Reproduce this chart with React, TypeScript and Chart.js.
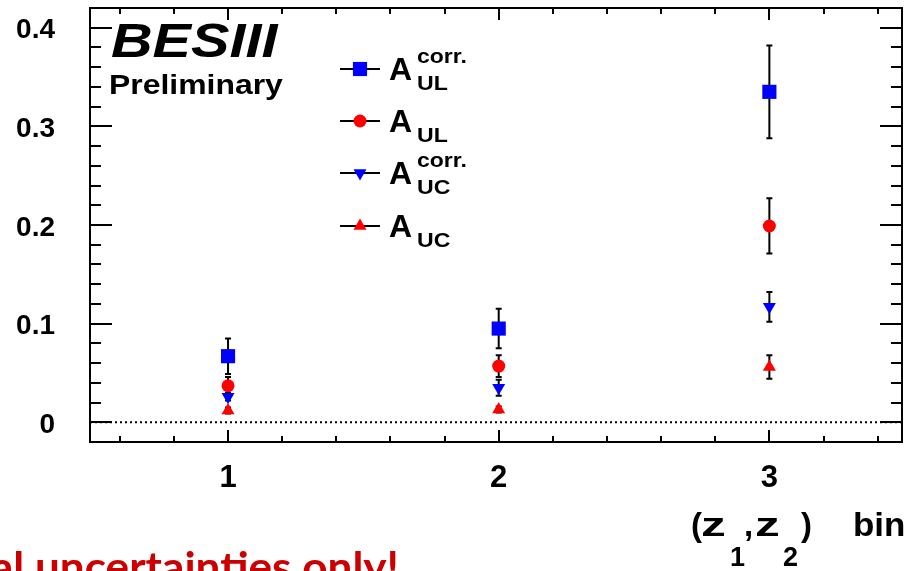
import React, { useEffect, useRef } from 'react';
import { Chart, registerables } from 'chart.js';

Chart.register(...registerables);

// ---- data ----
const bins = [1, 2, 3];
const xTickLabels = ['1', '2', '3'];
const yTickValues = [0, 0.1, 0.2, 0.3, 0.4];

const aulCorr = [0.067, 0.095, 0.335];
const aulCorrErr = [0.018, 0.02, 0.047];
const aul = [0.037, 0.057, 0.199];
const aulErr = [0.009, 0.011, 0.028];
const aucCorr = [0.026, 0.035, 0.117];
const aucCorrErr = [0.004, 0.008, 0.015];
const auc = [0.012, 0.013, 0.056];
const aucErr = [0.003, 0.003, 0.012];

const BLUE = '#0000ff';
const RED = '#ff0000';

type Series = {
  sup: string;
  sub: string;
  values: number[];
  errs: number[];
  color: string;
  style: string;
  radius: number;
  rotation: number;
};

const series: Series[] = [
  { sup: 'corr.', sub: 'UL', values: aulCorr, errs: aulCorrErr, color: BLUE, style: 'rect', radius: 10, rotation: 0 },
  { sup: '', sub: 'UL', values: aul, errs: aulErr, color: RED, style: 'circle', radius: 6.5, rotation: 0 },
  { sup: 'corr.', sub: 'UC', values: aucCorr, errs: aucCorrErr, color: BLUE, style: 'triangle', radius: 7.5, rotation: 180 },
  { sup: '', sub: 'UC', values: auc, errs: aucErr, color: RED, style: 'triangle', radius: 7.5, rotation: 0 },
];

const AF = '"Liberation Sans", Arial, sans-serif';

function drawText(
  ctx: CanvasRenderingContext2D,
  text: string,
  x: number,
  y: number,
  font: string,
  sx = 1,
  align: CanvasTextAlign = 'left',
  color = '#000'
) {
  ctx.save();
  ctx.translate(x, y);
  ctx.scale(sx, 1);
  ctx.font = font;
  ctx.fillStyle = color;
  ctx.textAlign = align;
  ctx.textBaseline = 'alphabetic';
  ctx.fillText(text, 0, 0);
  ctx.restore();
}

function drawMarker(ctx: CanvasRenderingContext2D, s: Series, x: number, y: number) {
  ctx.save();
  ctx.fillStyle = s.color;
  ctx.beginPath();
  if (s.style === 'rect') {
    const h = s.radius * Math.SQRT1_2;
    ctx.rect(x - h, y - h, 2 * h, 2 * h);
  } else if (s.style === 'circle') {
    ctx.arc(x, y, s.radius, 0, Math.PI * 2);
  } else {
    const r = s.radius;
    const dir = s.rotation === 180 ? -1 : 1;
    ctx.moveTo(x, y - dir * r);
    ctx.lineTo(x + r * Math.sin((2 * Math.PI) / 3), y + dir * r * 0.5);
    ctx.lineTo(x - r * Math.sin((2 * Math.PI) / 3), y + dir * r * 0.5);
    ctx.closePath();
  }
  ctx.fill();
  ctx.restore();
}

const framePlugin = {
  id: 'rootFrame',
  beforeDatasetsDraw(chart: any) {
    const { ctx, chartArea: ca, scales } = chart;
    const xs = scales.x;
    const ys = scales.y;
    ctx.save();
    // dotted zero line
    ctx.strokeStyle = '#000';
    ctx.lineWidth = 2;
    ctx.setLineDash([2, 3]);
    const y0 = ys.getPixelForValue(0);
    ctx.beginPath();
    ctx.moveTo(ca.left, y0);
    ctx.lineTo(ca.right, y0);
    ctx.stroke();
    ctx.setLineDash([]);
    // error bars
    series.forEach((s) => {
      s.values.forEach((v, i) => {
        const px = xs.getPixelForValue(bins[i]);
        const top = ys.getPixelForValue(v + s.errs[i]);
        const bot = ys.getPixelForValue(v - s.errs[i]);
        ctx.beginPath();
        ctx.moveTo(px, top);
        ctx.lineTo(px, bot);
        ctx.moveTo(px - 3, top);
        ctx.lineTo(px + 3, top);
        ctx.moveTo(px - 3, bot);
        ctx.lineTo(px + 3, bot);
        ctx.stroke();
      });
    });
    ctx.restore();
  },
  afterDraw(chart: any) {
    const { ctx, chartArea: ca, scales } = chart;
    const xs = scales.x;
    const ys = scales.y;
    ctx.save();
    ctx.strokeStyle = '#000';
    ctx.lineWidth = 2;
    // frame
    ctx.strokeRect(ca.left, ca.top, ca.right - ca.left, ca.bottom - ca.top);
    // y ticks
    ctx.beginPath();
    for (let k = -1; k <= 21; k++) {
      const v = k * 0.02;
      const py = Math.round(ys.getPixelForValue(v));
      const len = k % 5 === 0 ? 22 : 11;
      ctx.moveTo(ca.left, py);
      ctx.lineTo(ca.left + len, py);
      ctx.moveTo(ca.right, py);
      ctx.lineTo(ca.right - len, py);
    }
    // x ticks
    for (let k = 3; k <= 17; k++) {
      const v = k * 0.2;
      const px = Math.round(xs.getPixelForValue(v));
      const len = k % 5 === 0 ? 12 : 6;
      ctx.moveTo(px, ca.bottom);
      ctx.lineTo(px, ca.bottom - len);
      ctx.moveTo(px, ca.top);
      ctx.lineTo(px, ca.top + len);
    }
    ctx.stroke();

    // BESIII label
    drawText(ctx, 'BESIII', 111, 57, `italic bold 48px ${AF}`, 1.2);
    drawText(ctx, 'Preliminary', 109, 94, `bold 28px ${AF}`, 1.14);

    // legend
    const ly = [69, 121, 173, 226];
    series.forEach((s, i) => {
      const cy = ly[i];
      ctx.beginPath();
      ctx.strokeStyle = '#000';
      ctx.lineWidth = 2;
      ctx.moveTo(340, cy);
      ctx.lineTo(380, cy);
      ctx.stroke();
      drawMarker(ctx, s, 360, cy);
      drawText(ctx, 'A', 389, cy + 11, `bold 32px ${AF}`);
      if (s.sup) drawText(ctx, s.sup, 417, cy - 6, `bold 20px ${AF}`, 1.15);
      drawText(ctx, s.sub, 417, cy + 21, `bold 21px ${AF}`, 1.1);
    });

    // x-axis title: (z1,z2) bin
    const tb = 536;
    const mf = `bold 33px ${AF}`;
    const sf = `bold 27px ${AF}`;
    drawText(ctx, '(', 691, tb, mf);
    drawText(ctx, 'z', 701, tb, mf, 1.5);
    drawText(ctx, '1', 730, tb + 30, sf);
    drawText(ctx, ',', 744, tb, mf);
    drawText(ctx, 'z', 755, tb, mf, 1.5);
    drawText(ctx, '2', 783, tb + 30, sf);
    drawText(ctx, ')', 801, tb, mf);
    drawText(ctx, 'bin', 853, tb, mf, 1.06);

    // red note (clipped by canvas edges)
    drawText(ctx, 'Statistical uncertainties only!', 399, 582, 'bold 42px Lato, "Open Sans", sans-serif', 1.05, 'right', '#cc0000');
    ctx.restore();
  },
};

export default function App() {
  const ref = useRef<HTMLCanvasElement | null>(null);
  useEffect(() => {
    if (!ref.current) return;
    const chart = new Chart(ref.current, {
      type: 'scatter',
      data: {
        datasets: series.map((s) => ({
          label: 'A' + s.sup + s.sub,
          data: s.values.map((v, i) => ({ x: bins[i], y: v })),
          backgroundColor: s.color,
          borderColor: s.color,
          borderWidth: 0,
          pointStyle: s.style as any,
          pointRadius: s.radius,
          rotation: s.rotation,
          showLine: false,
        })),
      },
      plugins: [framePlugin],
      options: {
        responsive: false,
        animation: false,
        events: [],
        layout: { autoPadding: false, padding: { top: 8, right: 5, left: 0, bottom: 0 } },
        plugins: { legend: { display: false }, tooltip: { enabled: false }, title: { display: false } },
        scales: {
          x: {
            type: 'linear',
            min: 0.49,
            max: 3.49,
            grid: { display: false, drawTicks: false },
            border: { display: false },
            ticks: {
              autoSkip: false,
              maxRotation: 0,
              padding: 18,
              color: '#000',
              font: { family: AF, size: 31, weight: 'bold' },
              callback: (v: any) => {
                const idx = bins.indexOf(Number(v));
                return idx >= 0 ? xTickLabels[idx] : '';
              },
            },
            afterBuildTicks: (s: any) => {
              s.ticks = bins.map((v) => ({ value: v }));
            },
            afterFit: (s: any) => {
              s.height = 129;
              s.paddingLeft = 0;
              s.paddingRight = 0;
            },
          },
          y: {
            type: 'linear',
            min: -0.02,
            max: 0.42,
            grid: { display: false, drawTicks: false },
            border: { display: false },
            ticks: {
              autoSkip: false,
              padding: 35,
              labelOffset: 3,
              color: '#000',
              font: { family: AF, size: 28, weight: 'bold' },
              callback: (v: any) => (Number(v) === 0 ? '0' : Number(v).toFixed(1)),
            },
            afterBuildTicks: (s: any) => {
              s.ticks = yTickValues.map((v) => ({ value: v }));
            },
            afterFit: (s: any) => {
              s.width = 90;
              s.paddingTop = 0;
              s.paddingBottom = 0;
            },
          },
        },
      } as any,
    });
    return () => chart.destroy();
  }, []);
  return (
    <div style={{ position: 'fixed', left: 0, top: 0, width: 907, height: 571, background: '#fff' }}>
      <canvas ref={ref} width={907} height={571} style={{ display: 'block', width: 907, height: 571 }} />
    </div>
  );
}
